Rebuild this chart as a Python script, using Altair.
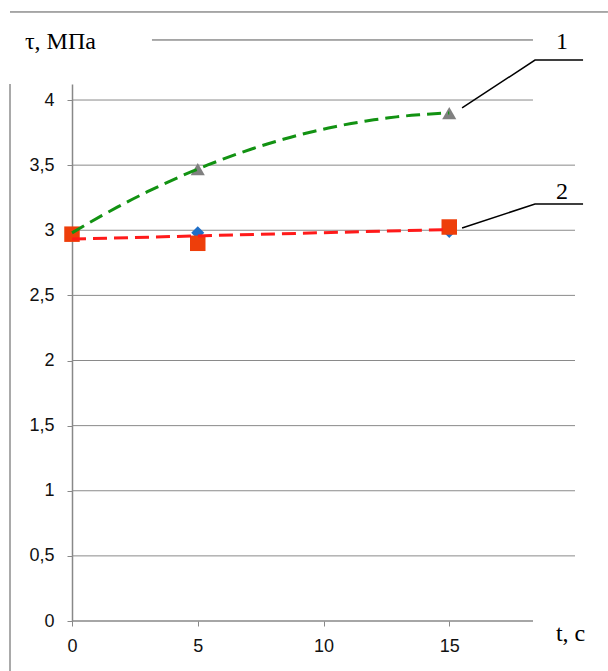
import altair as alt
import pandas as pd

# Measured shear stress τ (MPa) versus holding time t (s)
t_values = [0, 5, 15]
tau_triangle = [2.98, 3.47, 3.90]   # grey triangles, curve 1
tau_diamond = [2.97, 2.98, 2.99]    # blue diamonds
tau_square = [2.97, 2.90, 3.025]    # red squares, curve 2

x_ticks = [0, 5, 10, 15]
y_ticks = [0, 0.5, 1, 1.5, 2, 2.5, 3, 3.5, 4]

# Horizontal grid lines: level and right end (data units)
grid_levels = [0.5, 1, 1.5, 2, 2.5, 3, 3.5, 4]
grid_ends = [20, 20, 20, 20, 20, 20, 20, 18.33]

# Callout lines for curve labels 1 and 2 (data units)
callout_id = ["1", "1", "1", "2", "2", "2"]
callout_t = [15.51, 18.41, 20.32, 15.51, 18.41, 20.32]
callout_tau = [3.939, 4.307, 4.307, 3.017, 3.202, 3.202]
callout_order = [0, 1, 2, 0, 1, 2]

# Text labels
label_text = ["1", "2"]
label_t = [19.48, 19.48]
label_tau = [4.445, 3.294]

# Page frame lines around the figure (data units)
frame_t = [-2.465, 3.18, -2.465]
frame_t2 = [21.31, 18.33, -2.465]
frame_tau = [4.676, 4.461, 4.123]
frame_tau2 = [4.676, 4.461, -0.384]

SERIF = "Liberation Serif, Times New Roman, DejaVu Serif, serif"

XS = alt.Scale(domain=[0, 20], nice=False, zero=False)
YS = alt.Scale(domain=[0, 4.123], nice=False, zero=False)

x_axis = alt.Axis(values=x_ticks, grid=False, domain=False, ticks=True, tickSize=5,
                  tickColor="#888888", labelFont="Liberation Sans", labelFontSize=18,
                  labelColor="#111111", labelPadding=11, title=None, labelFlush=False)
y_axis = alt.Axis(values=y_ticks, grid=False, domain=True, domainColor="#888888",
                  domainWidth=1.5, ticks=True, tickSize=5, tickColor="#888888",
                  labelFont="Liberation Sans", labelFontSize=18, labelColor="#111111",
                  labelPadding=13, title=None, format="~g",
                  labelExpr="replace(datum.label, '.', ',')")


def X(field):
    return alt.X(field, type="quantitative", scale=XS, axis=x_axis)


def Y(field):
    return alt.Y(field, type="quantitative", scale=YS, axis=y_axis)


grid_df = pd.DataFrame({"lvl": grid_levels, "end": grid_ends, "start": [0] * len(grid_levels)})
grid = alt.Chart(grid_df).mark_rule(color="#8a8a8a", strokeWidth=1).encode(
    x=X("start"), x2="end", y=Y("lvl")
)

xaxis_df = pd.DataFrame({"a": [0], "b": [18.33], "y": [0]})
xaxis_line = alt.Chart(xaxis_df).mark_rule(color="#888888", strokeWidth=1.5).encode(
    x=X("a"), x2="b", y=Y("y")
)

tri_df = pd.DataFrame({"t": t_values, "tau": tau_triangle})
dia_df = pd.DataFrame({"t": t_values, "tau": tau_diamond})
sq_df = pd.DataFrame({"t": t_values, "tau": tau_square})

tri = alt.Chart(tri_df).mark_point(shape="triangle-up", filled=True, opacity=1,
                                   color="#808080", size=200).encode(x=X("t"), y=Y("tau"))
dia = alt.Chart(dia_df).mark_point(shape="diamond", filled=True, opacity=1,
                                   color="#1f6fc8", size=170).encode(x=X("t"), y=Y("tau"))
sq = alt.Chart(sq_df).mark_point(shape="square", filled=True, opacity=1,
                                 color="#ee3e0a", size=240).encode(x=X("t"), y=Y("tau"))

trend1 = alt.Chart(tri_df).transform_regression(
    "t", "tau", method="poly", order=2, extent=[0, 15]
).mark_line(color="#129212", strokeWidth=3, strokeDash=[14, 7]).encode(x=X("t"), y=Y("tau"))

trend2 = alt.Chart(sq_df).transform_regression(
    "t", "tau", method="linear", extent=[0, 15]
).mark_line(color="#ff1a1a", strokeWidth=3, strokeDash=[14, 7]).encode(x=X("t"), y=Y("tau"))

call_df = pd.DataFrame({"id": callout_id, "t": callout_t, "tau": callout_tau, "o": callout_order})
callouts = alt.Chart(call_df).mark_line(color="#000000", strokeWidth=1.5).encode(
    x=X("t"), y=Y("tau"), detail="id:N", order="o:Q"
)

lab_df = pd.DataFrame({"txt": label_text, "t": label_t, "tau": label_tau})
labels = alt.Chart(lab_df).mark_text(font=SERIF, fontSize=24, color="#000000",
                                     align="center", baseline="middle").encode(
    x=X("t"), y=Y("tau"), text="txt:N"
)

axis_titles_df = pd.DataFrame({"txt": ["τ, МПа", "t, c"], "t": [-1.87, 19.24], "tau": [4.445, -0.10]})
axis_titles = alt.Chart(axis_titles_df).mark_text(font=SERIF, fontSize=24,
                                                  color="#000000", align="left",
                                                  baseline="middle").encode(
    x=X("t"), y=Y("tau"), text="txt:N"
)

frame_df = pd.DataFrame({"a": frame_t, "b": frame_t2, "c": frame_tau, "d": frame_tau2})
frame = alt.Chart(frame_df).mark_rule(color="#555555", strokeWidth=1).encode(
    x=X("a"), x2="b", y=Y("c"), y2="d"
)

chart = alt.layer(
    frame, grid, xaxis_line, tri, dia, sq, trend1, trend2, callouts, labels, axis_titles
).properties(
    width=503, height=537,
    autosize=alt.AutoSizeParams(type="none"),
    padding={"left": 72, "top": 84, "right": 33, "bottom": 50},
    background="white",
).configure_view(stroke=None)

chart.save("out.html", embed_options={"renderer": "svg", "actions": False})
